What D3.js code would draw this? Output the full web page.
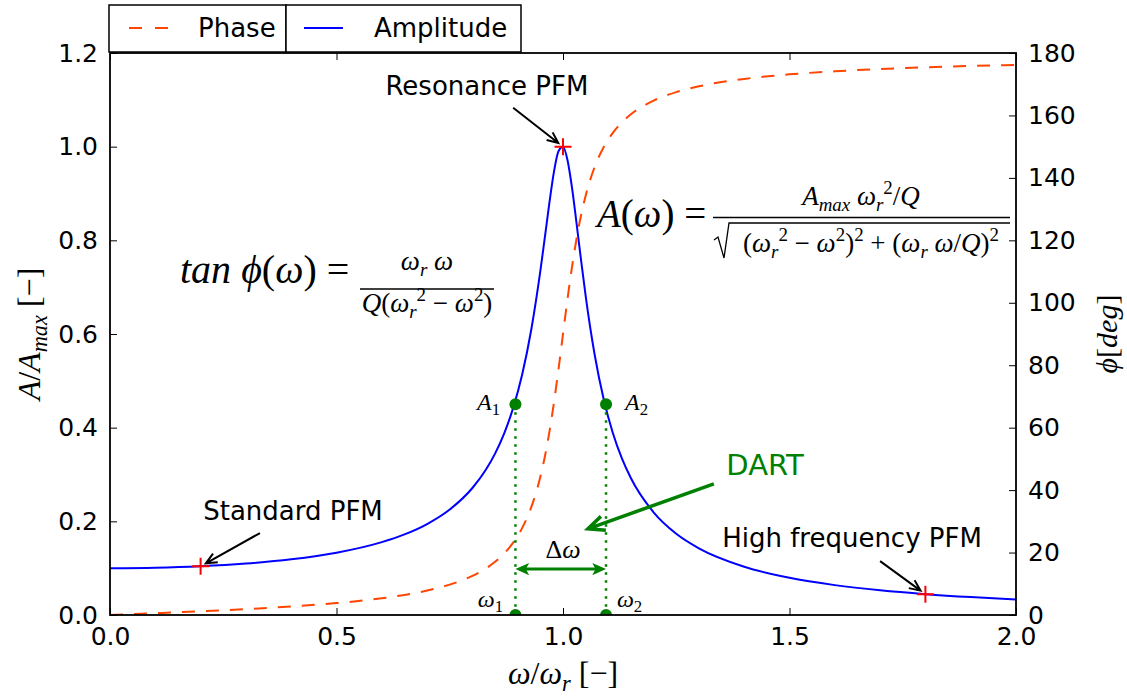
<!DOCTYPE html>
<html>
<head>
<meta charset="utf-8">
<script src="https://cdn.jsdelivr.net/npm/d3@7"></script>
<style>
  body { margin: 0; background: #fff; }
  text { font-family: "DejaVu Sans", sans-serif; }
  .math { font-family: "Liberation Serif", serif; white-space: pre; }
</style>
</head>
<body>
<svg id="chart" width="1127" height="699"></svg>
<script>
// values
const omega     = [0, 0.1, 0.2, 0.3, 0.4, 0.5, 0.6, 0.65, 0.7, 0.75, 0.8, 0.83, 0.85, 0.87, 0.89, 0.91, 0.93, 0.95, 0.96, 0.97, 0.98, 0.99, 1.0,
                   1.01, 1.02, 1.03, 1.04, 1.05, 1.07, 1.09, 1.11, 1.13, 1.15, 1.2, 1.25, 1.3, 1.4, 1.5, 1.6, 1.7, 1.8, 1.9, 2.0];
const amplitude = [0.100, 0.1010, 0.1041, 0.1098, 0.1189, 0.1330, 0.1556, 0.1721, 0.1943, 0.2253, 0.2712, 0.3106, 0.3446, 0.3873, 0.4422, 0.5141, 0.6097, 0.7346, 0.8068, 0.8804, 0.9461, 0.9903, 1.0,
                   0.9711, 0.9115, 0.8357, 0.7565, 0.6815, 0.5552, 0.4600, 0.3887, 0.3344, 0.2921, 0.2193, 0.1735, 0.1424, 0.1031, 0.0794, 0.0638, 0.0527, 0.0445, 0.0382, 0.0333];
const phase     = [0, 0.58, 1.19, 1.89, 2.73, 3.81, 5.36, 6.42, 7.82, 9.73, 12.53, 14.94, 17.03, 19.69, 23.17, 27.90, 34.54, 44.26, 50.76, 58.65, 68.00, 78.64, 90.0,
                   101.26, 111.61, 120.59, 128.12, 134.31, 143.56, 149.91, 154.44, 157.80, 160.37, 164.74, 167.47, 169.33, 171.70, 173.16, 174.14, 174.86, 175.41, 175.84, 176.19];

const pfmPoints = [[0.2, 0.1041], [1.0, 1.0], [1.8, 0.0445]];
const halfOmega = [0.895, 1.095];
const halfAmp = 0.45;

const xTicks = [0, 0.5, 1.0, 1.5, 2.0];
const ampTicks = [0, 0.2, 0.4, 0.6, 0.8, 1.0, 1.2];
const phaseTicks = [0, 20, 40, 60, 80, 100, 120, 140, 160, 180];

// annotation text / arrow positions in data units
const notes = [
  { label: "Resonance PFM",      tx: 0.832, ty: 1.110, ax: 0.890, ay: 1.083, px: 1.0, py: 1.0 },
  { label: "Standard PFM",       tx: 0.404, ty: 0.203, ax: 0.331, ay: 0.175, px: 0.2, py: 0.1041 },
  { label: "High frequency PFM", tx: 1.638, ty: 0.145, ax: 1.700, ay: 0.115, px: 1.8, py: 0.0445 }
];

const svg = d3.select('#chart');
const plotL = 110, plotR = 1016, plotT = 53, plotB = 615;

const x = d3.scaleLinear().domain([0, 2]).range([plotL, plotR]);
const yA = d3.scaleLinear().domain([0, 1.2]).range([plotB, plotT]);
const yP = d3.scaleLinear().domain([0, 180]).range([plotB, plotT]);

const green = '#008000';

svg.append('defs').append('clipPath').attr('id', 'plot-clip')
  .append('rect').attr('x', plotL).attr('y', plotT).attr('width', plotR - plotL).attr('height', plotB - plotT);

// axes, ticks pointing inward
const tick = 7;
function styleAxis(g) {
  g.select('.domain').remove();
  g.selectAll('.tick line').attr('stroke', '#000').attr('stroke-width', 1);
  g.selectAll('.tick text').attr('font-size', 25).attr('fill', '#000').attr('font-family', '"DejaVu Sans", sans-serif');
}
svg.append('g').attr('transform', `translate(0,${plotB})`)
  .call(d3.axisBottom(x).tickValues(xTicks).tickFormat(d3.format('.1f')).tickSizeInner(-tick).tickSizeOuter(0).tickPadding(12))
  .call(styleAxis);
svg.append('g').attr('transform', `translate(0,${plotT})`)
  .call(d3.axisTop(x).tickValues(xTicks).tickFormat('').tickSizeInner(-tick).tickSizeOuter(0))
  .call(styleAxis);
svg.append('g').attr('transform', `translate(${plotL},0)`)
  .call(d3.axisLeft(yA).tickValues(ampTicks).tickFormat(d3.format('.1f')).tickSizeInner(-tick).tickSizeOuter(0).tickPadding(12))
  .call(styleAxis);
svg.append('g').attr('transform', `translate(${plotR},0)`)
  .call(d3.axisRight(yP).tickValues(phaseTicks).tickFormat(d3.format('d')).tickSizeInner(-tick).tickSizeOuter(0).tickPadding(12))
  .call(styleAxis);

const plot = svg.append('g').attr('clip-path', 'url(#plot-clip)');

// amplitude curve
const ampLine = d3.line().x((d, i) => x(omega[i])).y(d => yA(d)).curve(d3.curveMonotoneX);
plot.append('path').datum(amplitude).attr('d', ampLine)
  .attr('fill', 'none').attr('stroke', '#0000ff').attr('stroke-width', 2);

// phase curve
const phaseLine = d3.line().x((d, i) => x(omega[i])).y(d => yP(d)).curve(d3.curveMonotoneX);
plot.append('path').datum(phase).attr('d', phaseLine)
  .attr('fill', 'none').attr('stroke', '#ff4500').attr('stroke-width', 2).attr('stroke-dasharray', '13,11');

// half power points
plot.selectAll('line.drop').data(halfOmega).enter().append('line')
  .attr('class', 'drop')
  .attr('x1', d => x(d)).attr('x2', d => x(d))
  .attr('y1', yA(halfAmp)).attr('y2', yA(0))
  .attr('stroke', green).attr('stroke-width', 2.5).attr('stroke-dasharray', '2.5,5.5');
plot.selectAll('circle.hp').data(halfOmega.flatMap(w => [[w, halfAmp], [w, 0]])).enter().append('circle')
  .attr('class', 'hp')
  .attr('cx', d => x(d[0])).attr('cy', d => yA(d[1])).attr('r', 6).attr('fill', green);

// red crosses
const cross = 8.5;
plot.selectAll('path.pfm').data(pfmPoints).enter().append('path')
  .attr('class', 'pfm')
  .attr('d', d => `M${x(d[0]) - cross},${yA(d[1])}h${2 * cross}M${x(d[0])},${yA(d[1]) - cross}v${2 * cross}`)
  .attr('stroke', '#ff0000').attr('stroke-width', 2);

// frame
svg.append('rect').attr('x', plotL).attr('y', plotT).attr('width', plotR - plotL).attr('height', plotB - plotT)
  .attr('fill', 'none').attr('stroke', '#000').attr('stroke-width', 1.8);

// arrows
function arrow(g, x1, y1, x2, y2, opt) {
  const a = Math.atan2(y2 - y1, x2 - x1);
  const h = opt.head, s = 0.42;
  if (opt.filled) {
    const tip = (px, py, ang) => {
      g.append('path')
        .attr('d', `M${px},${py}L${px - h * Math.cos(ang - s)},${py - h * Math.sin(ang - s)}L${px - h * 0.7 * Math.cos(ang)},${py - h * 0.7 * Math.sin(ang)}L${px - h * Math.cos(ang + s)},${py - h * Math.sin(ang + s)}Z`)
        .attr('fill', opt.color);
    };
    g.append('line').attr('x1', x1 + h * 0.6 * Math.cos(a)).attr('y1', y1 + h * 0.6 * Math.sin(a))
      .attr('x2', x2 - h * 0.6 * Math.cos(a)).attr('y2', y2 - h * 0.6 * Math.sin(a))
      .attr('stroke', opt.color).attr('stroke-width', opt.width);
    tip(x2, y2, a);
    tip(x1, y1, a + Math.PI);
  } else {
    g.append('path')
      .attr('d', `M${x1},${y1}L${x2},${y2}M${x2 - h * Math.cos(a - s)},${y2 - h * Math.sin(a - s)}L${x2},${y2}L${x2 - h * Math.cos(a + s)},${y2 - h * Math.sin(a + s)}`)
      .attr('fill', 'none').attr('stroke', opt.color).attr('stroke-width', opt.width)
      .attr('stroke-linejoin', 'miter');
  }
}

const ann = svg.append('g');
notes.forEach(n => {
  const x1 = x(n.ax), y1 = yA(n.ay), tx = x(n.px), ty = yA(n.py);
  const len = Math.hypot(tx - x1, ty - y1), shrink = 6;
  const x2 = tx - (tx - x1) / len * shrink, y2 = ty - (ty - y1) / len * shrink;
  arrow(ann, x1, y1, x2, y2, { color: '#000', width: 2, head: 12 });
  ann.append('text').attr('x', x(n.tx)).attr('y', yA(n.ty)).attr('text-anchor', 'middle')
    .attr('font-size', 26).attr('fill', '#000').text(n.label);
});

// DART
arrow(ann, x(1.333), yA(0.280), x(1.055), yA(0.184), { color: green, width: 3.5, head: 18 });
ann.append('text').attr('x', x(1.446)).attr('y', yA(0.299)).attr('text-anchor', 'middle')
  .attr('font-size', 29).attr('fill', green).text('DART');

// delta omega
arrow(ann, x(halfOmega[0]), yA(0.098), x(halfOmega[1]), yA(0.098), { color: green, width: 3, head: 15, filled: true });

// math text helper: parts with italic default, u = upright, dy in em, s = scale
function math(g, px, py, size, parts, anchor) {
  const t = g.append('text').attr('class', 'math').attr('x', px).attr('y', py)
    .attr('font-size', size).attr('text-anchor', anchor || 'start').attr('fill', '#000');
  let cur = 0;
  parts.forEach(p => {
    const off = (p.dy || 0) * size;
    t.append('tspan').attr('dy', off - cur)
      .attr('font-size', (p.s || 1) * size)
      .attr('font-style', p.u ? 'normal' : 'italic')
      .text(p.t);
    cur = off;
  });
  return t;
}
const I = t => ({ t });
const U = t => ({ t, u: 1 });
const SUB = (t, u) => ({ t, dy: 0.22, s: 0.7, u });
const SUP = t => ({ t, dy: -0.42, s: 0.7, u: 1 });
const wr2 = [I('ω'), SUB('r'), SUP('2')];

const eq = svg.append('g');
// labels of the half power points
math(eq, x(0.861), yA(0.438), 24, [I('A'), SUB('1', 1)], 'end');
math(eq, x(1.137), yA(0.438), 24, [I('A'), SUB('2', 1)]);
math(eq, x(0.868), yA(0.017), 24, [I('ω'), SUB('1', 1)], 'end');
math(eq, x(1.119), yA(0.017), 24, [I('ω'), SUB('2', 1)]);
math(eq, x(1.0), yA(0.122), 26, [U('Δ'), I('ω')], 'middle');

// amplitude formula
math(eq, 597, 227, 39, [I('A'), U('('), I('ω'), U(')'), U(' = ')]);
math(eq, 861, 205, 27, [I('A'), SUB('max'), U(' '), ...wr2, U('/'), I('Q')], 'middle');
eq.append('line').attr('x1', 713).attr('x2', 1010).attr('y1', 217.5).attr('y2', 217.5)
  .attr('stroke', '#000').attr('stroke-width', 1.6);
eq.append('path').attr('d', 'M714,240L718,237L724,258L729,223L1010,223')
  .attr('fill', 'none').attr('stroke', '#000').attr('stroke-width', 1.3);
math(eq, 871, 252, 27, [U('('), ...wr2, U(' − '), I('ω'), SUP('2'), U(')'), SUP('2'), U(' + ('), I('ω'), SUB('r'), U(' '), I('ω'), U('/'), I('Q'), U(')'), SUP('2')], 'middle');

// phase formula
math(eq, 180, 283, 40, [I('tan'), U(' '), I('ϕ'), U('('), I('ω'), U(')'), U(' = ')]);
math(eq, 427, 270, 27, [I('ω'), SUB('r'), U(' '), I('ω')], 'middle');
eq.append('line').attr('x1', 360).attr('x2', 494).attr('y1', 289).attr('y2', 289)
  .attr('stroke', '#000').attr('stroke-width', 1.6);
math(eq, 427, 312, 27, [I('Q'), U('('), ...wr2, U(' − '), I('ω'), SUP('2'), U(')')], 'middle');

// axis labels
math(svg, 563, 684, 32, [I('ω'), U('/'), I('ω'), SUB('r'), U(' [−]')], 'middle');
math(svg.append('g').attr('transform', `translate(40,${(plotT + plotB) / 2}) rotate(-90)`), 0, 0, 32,
  [I('A'), U('/'), I('A'), SUB('max'), U(' [−]')], 'middle');
math(svg.append('g').attr('transform', `translate(1117,${(plotT + plotB) / 2}) rotate(-90)`), 0, 0, 30,
  [I('ϕ'), U('['), I('deg'), U(']')], 'middle');

// legend: two boxes
const legend = svg.append('g');
const legendItems = [
  { name: 'Phase', color: '#ff4500', dash: '13,13', bx: 109, bw: 177, lx: 129, tx: 198 },
  { name: 'Amplitude', color: '#0000ff', dash: null, bx: 286, bw: 235, lx: 304, tx: 374 }
];
legendItems.forEach(d => {
  legend.append('rect').attr('x', d.bx).attr('y', 5).attr('width', d.bw).attr('height', 47)
    .attr('fill', '#fff').attr('stroke', '#000').attr('stroke-width', 1.5);
  legend.append('line').attr('x1', d.lx).attr('x2', d.lx + 39).attr('y1', 28).attr('y2', 28)
    .attr('stroke', d.color).attr('stroke-width', 2).attr('stroke-dasharray', d.dash);
  legend.append('text').attr('x', d.tx).attr('y', 37).attr('font-size', 26).attr('fill', '#000').text(d.name);
});
</script>
</body>
</html>
